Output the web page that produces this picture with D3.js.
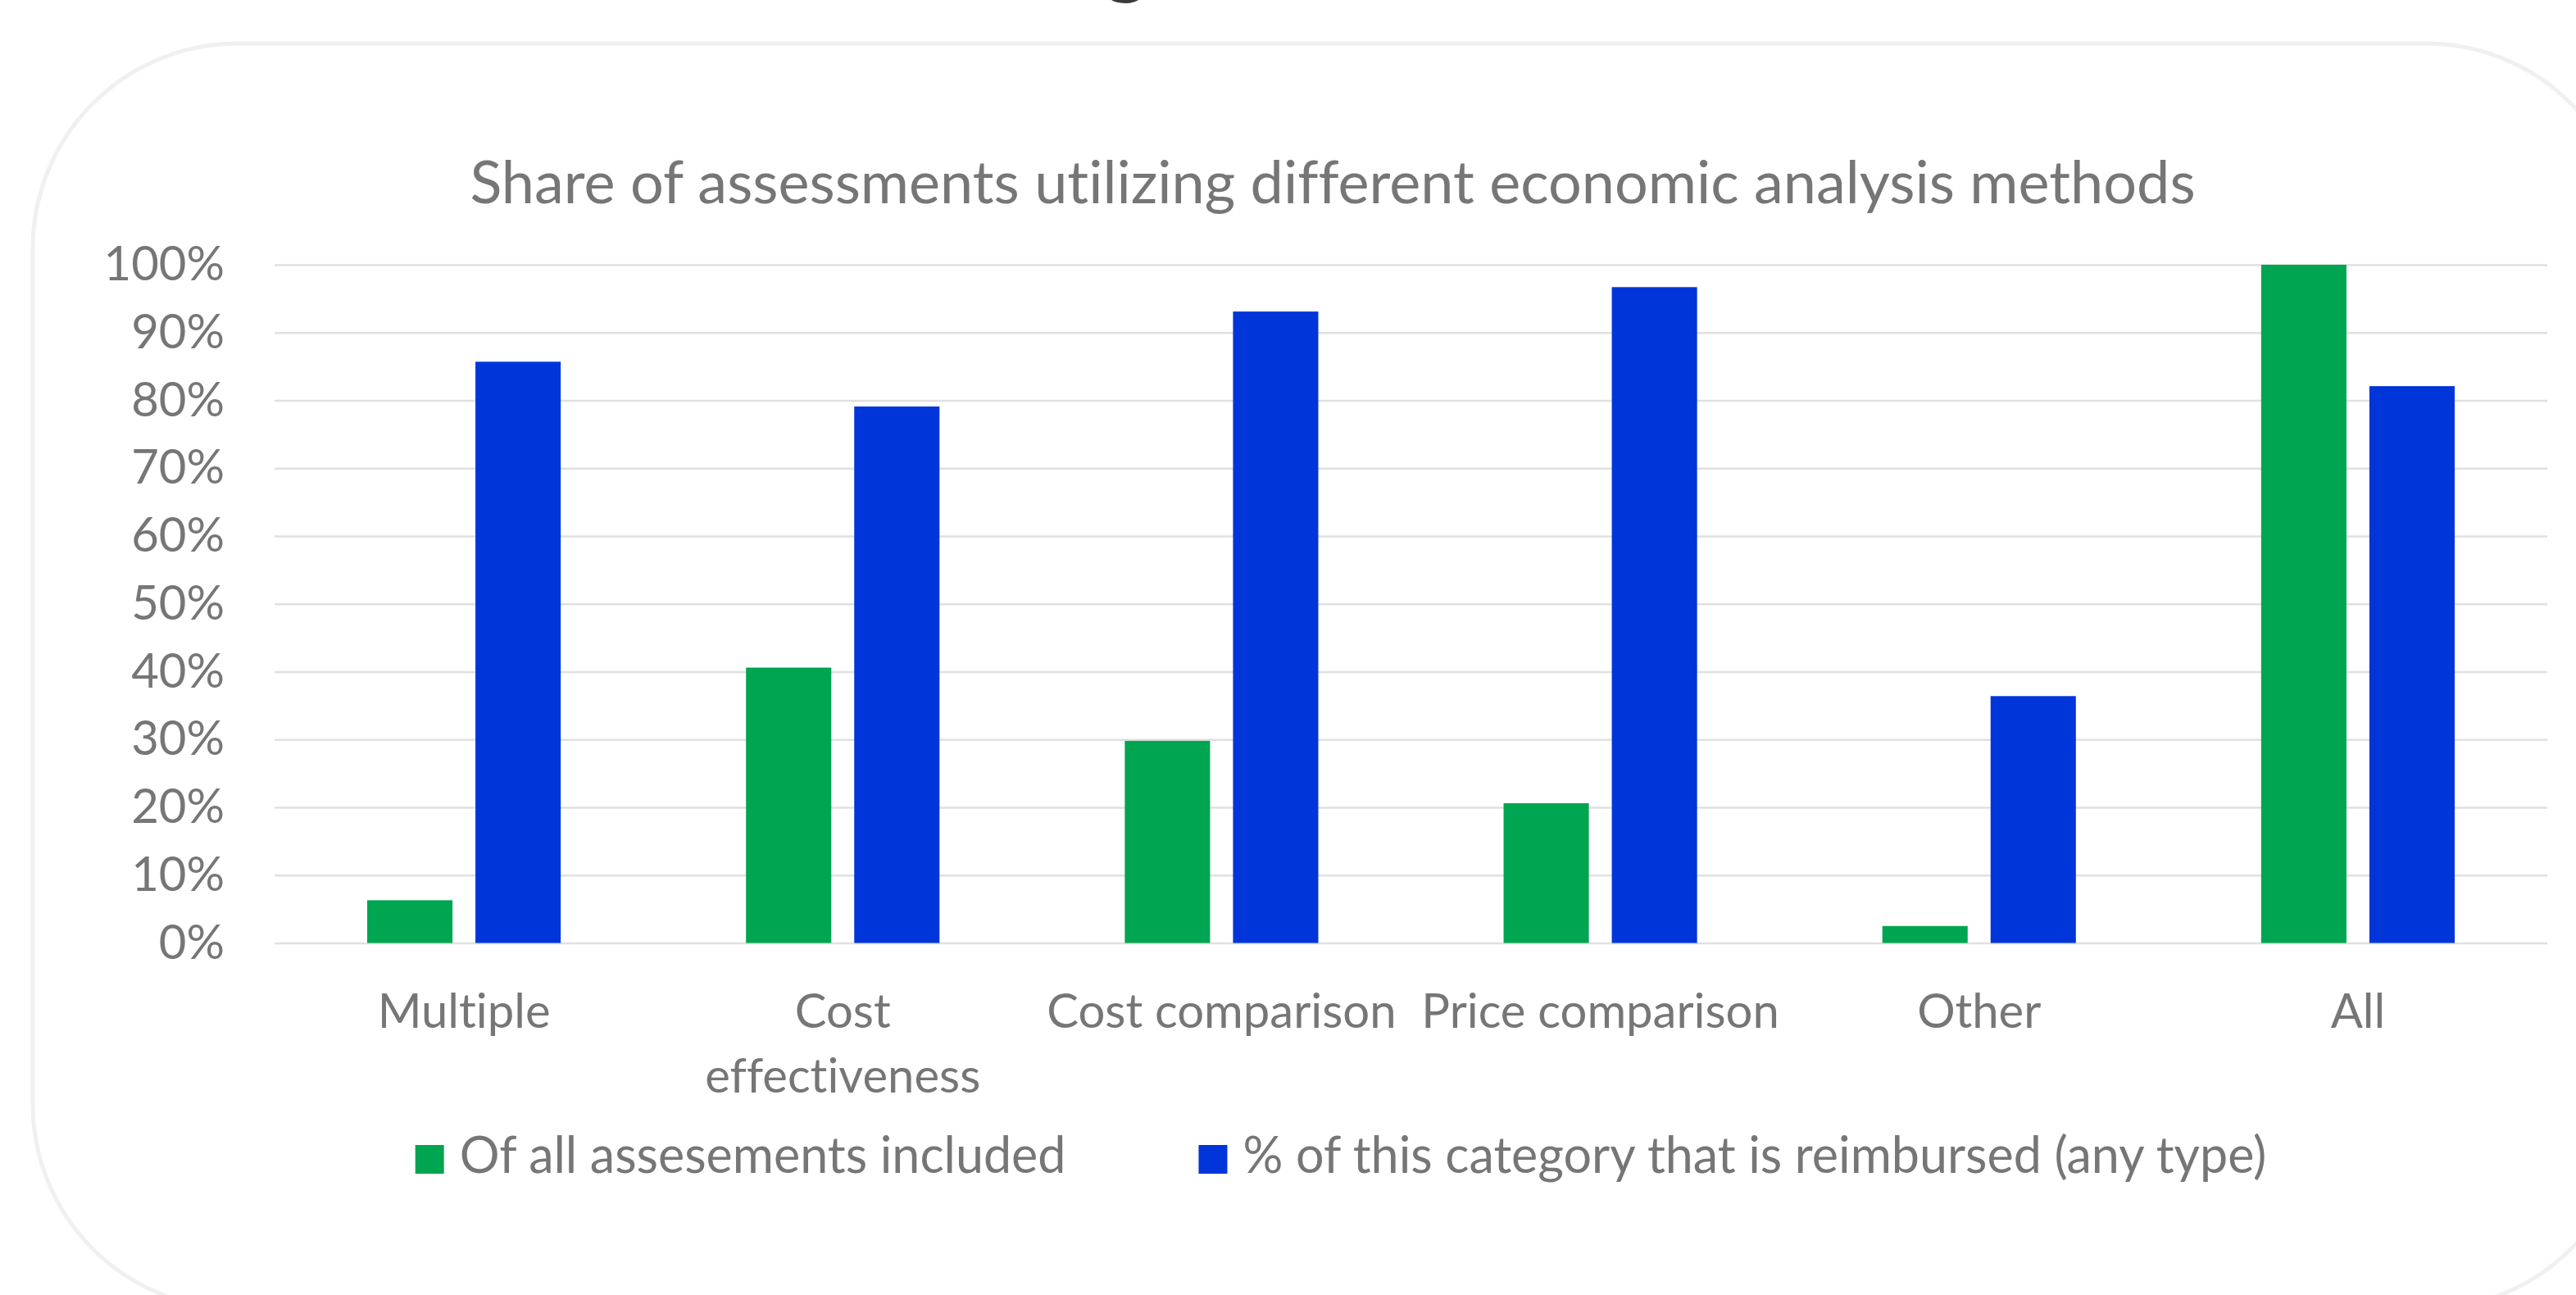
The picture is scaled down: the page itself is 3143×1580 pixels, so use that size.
<!DOCTYPE html>
<html lang="en">
<head>
<meta charset="UTF-8">
<title>Share of assessments utilizing different economic analysis methods</title>
<script src="https://d3js.org/d3.v7.min.js"></script>
<style>
  body { margin: 0; background: #fff; }
  svg { display: block; font-family: Lato, "Open Sans", sans-serif; font-variant-ligatures: none; }
  text { font-variant-ligatures: none; font-feature-settings: "liga" 0, "clig" 0; }
</style>
</head>
<body>
<svg id="chart"></svg>
<script>
// data
const categories = ['Multiple', 'Cost effectiveness', 'Cost comparison', 'Price comparison', 'Other', 'All'];
const seriesNames = ['Of all assesements included', '% of this category that is reimbursed (any type)'];
const shareOfAll = [0.063, 0.406, 0.298, 0.206, 0.025, 1.0];
const shareReimbursed = [0.857, 0.791, 0.931, 0.967, 0.364, 0.821];
const yTicks = [0, 0.1, 0.2, 0.3, 0.4, 0.5, 0.6, 0.7, 0.8, 0.9, 1.0];
const chartTitle = 'Share of assessments utilizing different economic analysis methods';

const W = 3143, H = 1580;
const margin = { top: 323, right: 35, bottom: 429.5, left: 335 };
const innerW = W - margin.left - margin.right;
const innerH = H - margin.top - margin.bottom;
const colors = ['#00a551', '#0035d9'];
const textColor = '#767676';

const svg = d3.select('#chart').attr('width', W).attr('height', H);

// chart area frame (rounded, partly cropped by the picture)
svg.append('rect')
  .attr('x', 40).attr('y', 53)
  .attr('width', 3170).attr('height', 1544)
  .attr('rx', 250).attr('ry', 250)
  .attr('fill', 'none')
  .attr('stroke', '#f0f0f0')
  .attr('stroke-width', 5);

// bottom of a cut-off heading above the chart
svg.append('text')
  .attr('x', 1374).attr('y', -14)
  .attr('text-anchor', 'middle')
  .style('font-size', '100px')
  .style('font-weight', 'bold')
  .attr('fill', '#3a3a3a')
  .text('g');

// title
svg.append('text')
  .attr('x', 1626).attr('y', 248)
  .attr('text-anchor', 'middle')
  .style('font-size', '72px')
  .attr('fill', textColor)
  .text(chartTitle);

const g = svg.append('g').attr('transform', `translate(${margin.left},${margin.top})`);

const x0 = d3.scaleBand().domain(categories).range([0, innerW]).padding(0);
const x1 = d3.scaleBand().domain([0, 1]).range([0, x0.bandwidth()])
  .paddingInner(0.212).paddingOuter(0.856);
const y = d3.scaleLinear().domain([0, 1]).range([innerH, 0]);

// y axis with gridlines
const yAxis = g.append('g')
  .call(d3.axisLeft(y).tickValues(yTicks).tickFormat(d3.format('.0%')).tickSize(-innerW).tickPadding(61));
yAxis.select('.domain').remove();
yAxis.selectAll('.tick line').attr('stroke', '#e0e0e0').attr('stroke-width', 2.5);
yAxis.selectAll('.tick text')
  .attr('fill', textColor)
  .style('font-size', '58px')
  .style('font-family', 'Lato, "Open Sans", sans-serif');

// bars
const series = [shareOfAll, shareReimbursed];
series.forEach((vals, si) => {
  g.append('g').selectAll('rect')
    .data(vals)
    .enter()
    .append('rect')
    .attr('x', (d, i) => x0(categories[i]) + x1(si))
    .attr('y', d => y(d))
    .attr('width', x1.bandwidth())
    .attr('height', d => innerH - y(d))
    .attr('fill', colors[si]);
});

// x axis labels
const xAxis = g.append('g')
  .attr('transform', `translate(0,${innerH})`)
  .call(d3.axisBottom(x0).tickSize(0).tickPadding(62));
xAxis.select('.domain').remove();
xAxis.selectAll('.tick text')
  .attr('fill', textColor)
  .style('font-size', '58px')
  .style('font-family', 'Lato, "Open Sans", sans-serif')
  .call(wrap, x0.bandwidth() - 10);

function wrap(texts, width) {
  texts.each(function () {
    const text = d3.select(this);
    const words = text.text().split(/\s+/);
    const yPos = text.attr('y');
    const dy = parseFloat(text.attr('dy'));
    text.text(null);
    let line = [];
    let lineNo = 0;
    let tspan = text.append('tspan').attr('x', 0).attr('y', yPos).attr('dy', dy + 'em');
    words.forEach(word => {
      line.push(word);
      tspan.text(line.join(' '));
      if (tspan.node().getComputedTextLength() > width && line.length > 1) {
        line.pop();
        tspan.text(line.join(' '));
        line = [word];
        lineNo++;
        tspan = text.append('tspan').attr('x', 0).attr('y', yPos)
          .attr('dy', (lineNo * 1.36 + dy) + 'em').text(word);
      }
    });
  });
}

// legend
const legend = svg.append('g');
const items = legend.selectAll('g')
  .data(seriesNames)
  .enter()
  .append('g');
items.append('rect')
  .attr('width', 35).attr('height', 35)
  .attr('y', -34)
  .attr('fill', (d, i) => colors[i]);
items.append('text')
  .attr('x', 54)
  .style('font-size', '61px')
  .attr('fill', textColor)
  .text(d => d);
let offset = 0;
const itemGap = 162;
items.each(function () {
  const w = 54 + d3.select(this).select('text').node().getComputedTextLength();
  d3.select(this).attr('transform', `translate(${offset},1431)`);
  offset += w + itemGap;
});
const legendW = offset - itemGap;
legend.attr('transform', `translate(${1636 - legendW / 2},0)`);
</script>
</body>
</html>
